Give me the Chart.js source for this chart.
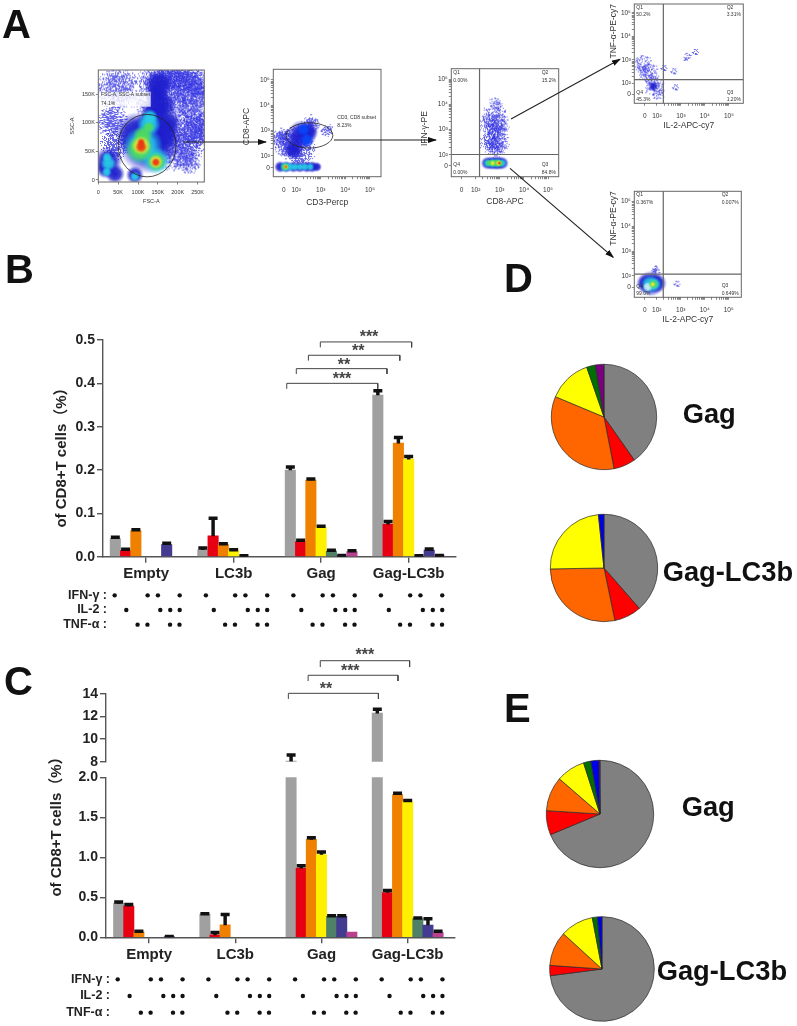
<!DOCTYPE html>
<html>
<head>
<meta charset="utf-8">
<title>CD8+ T cell cytokine responses</title>
<script src="https://cdn.jsdelivr.net/npm/chart.js@4"></script>
<style>
  html, body { margin: 0; background: #fff; }
  #page { position: relative; width: 797px; height: 1026px; overflow: hidden; font-family: "Liberation Sans", Arial, sans-serif; }
  #page canvas { position: absolute; }
  #notes { position: absolute; left: 0; top: 0; pointer-events: none; z-index: 5; }
  #notes .letter { font: bold 40px "Liberation Sans"; fill: #111; }
  #notes .name { font: bold 27.3px "Liberation Sans"; fill: #111; }
  #notes .ytitle { font: bold 15px "Liberation Sans", "Noto Sans CJK SC"; fill: #222; text-anchor: middle; }
</style>
</head>
<body>
<div id="page">
  <svg id="notes" width="797" height="1026">
    <defs>
      <marker id="head" markerWidth="9" markerHeight="6" refX="8" refY="3" orient="auto" markerUnits="userSpaceOnUse">
        <path d="M0 0 L9 3 L0 6 Z" fill="#111"/>
      </marker>
    </defs>
    <text class="letter" x="2" y="38">A</text>
    <text class="letter" x="5" y="283">B</text>
    <text class="letter" x="4" y="695">C</text>
    <text class="letter" x="504" y="292">D</text>
    <text class="letter" x="504" y="722">E</text>
    <text class="name" x="682.7" y="422.7">Gag</text>
    <text class="name" x="662.7" y="581">Gag-LC3b</text>
    <text class="name" x="681.7" y="816">Gag</text>
    <text class="name" x="656.7" y="980">Gag-LC3b</text>
    <text class="ytitle" transform="translate(66 454) rotate(-90)">of CD8+T cells（%）</text>
    <text class="ytitle" transform="translate(60.5 823) rotate(-90)">of CD8+T cells（%）</text>
    <g stroke="#222" stroke-width="1.1" marker-end="url(#head)">
      <line x1="183" y1="142" x2="266" y2="142"/>
      <line x1="334" y1="140" x2="436" y2="140"/>
      <line x1="511" y1="119" x2="620" y2="59.3"/>
      <line x1="510" y1="168.3" x2="613.3" y2="257.3"/>
    </g>
  </svg>
</div>
<script>
const groups = ['Empty', 'LC3b', 'Gag', 'Gag-LC3b']
const barColors = ['#a0a0a0', '#e60012', '#f08000', '#fff000', '#4f8068', '#433b90', '#b8408f']
const pieColors = ['#808080', '#ff0000', '#ff6600', '#ffff00', '#007000', '#0000e6', '#7a0080']

// panel B, one value per bar, then the top of its error bar
const bEmpty = [0.042, 0.014, 0.06, 0, 0, 0.028, 0]
const bLc3b = [0.016, 0.048, 0.028, 0.015, 0.001, 0, 0]
const bGag = [0.2, 0.035, 0.177, 0.068, 0.013, 0.002, 0.012]
const bGagLc3b = [0.373, 0.075, 0.262, 0.225, 0.001, 0.015, 0.002]
const bEmptyTop = [0.045, 0.017, 0.062, null, null, 0.031, null]
const bLc3bTop = [0.02, 0.089, 0.03, 0.016, 0.002, null, null]
const bGagTop = [0.207, 0.038, 0.179, 0.07, 0.015, 0.003, 0.014]
const bGagLc3bTop = [0.383, 0.081, 0.275, 0.231, 0.002, 0.018, 0.003]

// panel C
const cEmpty = [0.425, 0.39, 0.067, 0, 0, 0.005, 0]
const cLc3b = [0.29, 0.03, 0.155, 0, 0, 0, 0]
const cGag = [8.05, 0.865, 1.225, 1.035, 0.262, 0.262, 0.065]
const cGagLc3b = [12.3, 0.56, 1.785, 1.695, 0.235, 0.154, 0.058]
const cEmptyTop = [0.44, 0.41, 0.075, null, null, 0.01, null]
const cLc3bTop = [0.295, 0.06, 0.285, null, null, null, null]
const cGagTop = [8.6, 0.895, 1.245, 1.065, 0.27, 0.27, null]
const cGagLc3bTop = [12.65, 0.585, 1.8, 1.71, 0.24, 0.233, 0.075]

// significance brackets: from, to, level, foot; stars: text, x, y
const bBrackets = [[16.69, 25.55, 0.4, 0.3875], [17.62, 26.45, 0.4339, 0.4216], [18.8, 27.7, 0.4648, 0.4525], [19.96, 28.85, 0.4955, 0.483]]
const bStars = [['***', 22.07, 0.4154], ['**', 22.27, 0.447], ['**', 23.66, 0.48], ['***', 24.7, 0.5123]]
const cBrackets = [[16.75, 25.64, 14.06, 13.56], [18.7, 27.57, 15.66, 15.15], [19.9, 28.72, 16.95, 16.39]]
const cStars = [['**', 20.46, 14.7], ['***', 22.86, 16.24], ['***', 24.31, 17.7]]

// cytokine dot rows, position inside a group of seven bars
const rowNames = ['IFN-γ :', 'IL-2 :', 'TNF-α :']
const ifnSlots = [0.3, 3.15, 4.15, 6.27]
const il2Slots = [1.07, 4.38, 5.35, 6.27]
const tnfSlots = [2.17, 3.13, 5.33, 6.25]

// pie slices, degrees
const pieDGag = [144.9, 24.1, 123.7, 48.2, 9.5, 0, 9.6]
const pieDGagLc3b = [138.9, 29.4, 100.7, 85, 0, 6, 0]
const pieEGag = [247.4, 26.2, 37.3, 31.3, 7.9, 8.9, 1]
const pieEGagLc3b = [262.6, 11.4, 38.4, 36.9, 5.6, 5.1, 0]

// flow plots: density patches as [x, y, radius in pixels], in axis units
const fscGrain = [[150, 172, 22], [142, 132, 22], [200, 160, 28], [242, 132, 28], [233, 80, 26], [192, 57, 24], [50, 160, 24], [33, 103, 18], [42, 63, 16], [225, 34, 14], [180, 180, 16], [220, 180, 18], [255, 170, 16], [255, 90, 18]]
const fscBlue = [[125, 63, 30], [96, 80, 22], [158, 80, 20], [142, 120, 14], [146, 149, 12], [150, 168, 14], [160, 130, 14], [130, 100, 14], [175, 100, 14], [25, 34, 14], [18, 20, 10], [92, 9, 9], [42, 11, 10]]
const fscCyan = [[112, 60, 20], [146, 34, 14], [127, 97, 12], [130, 110, 8], [25, 29, 8], [22, 40, 5], [21, 14, 5], [92, 6, 5]]
const fscGreen = [[104, 54, 14], [112, 77, 10], [146, 32, 10], [127, 92, 6]]
const fscYellow = [[108, 60, 10], [145, 32, 7]]
const fscRed = [[108, 58, 6], [108, 66, 4], [145, 31, 4.5]]

const cd3Grain = [[1.62, 2.5, 16], [2.16, 2.23, 16], [1.9, 2.7, 14], [1.35, 2.76, 10], [2.57, 3.29, 10], [3.24, 3.02, 7]]
const cd3Blue = [[2.23, 2.83, 15], [2.5, 2.96, 10], [1.89, 2.23, 10], [1.35, 1.57, 6], [1.6, 1.57, 6], [1.89, 1.57, 6], [2.15, 1.57, 6], [2.43, 1.57, 6], [2.65, 1.57, 6], [2.84, 1.57, 5]]
const cd3Bright = [[2.3, 3.05, 7], [2.43, 2.63, 7]]
const cd3Cyan = [[1.55, 1.57, 5.5], [1.75, 1.57, 4.5], [1.95, 1.57, 4], [2.16, 1.57, 4], [2.35, 1.57, 4], [2.57, 1.57, 4]]
const cd3Green = [[1.55, 1.57, 4]]
const cd3Yellow = [[1.58, 1.57, 2.5]]
const cd3Red = [[1.58, 1.57, 1.5]]

const ifnGrain = [[2.75, 3.51, 14], [2.75, 2.85, 13], [2.75, 2.33, 12], [2.82, 4.04, 8], [2.55, 3.2, 12], [2.95, 3.2, 12], [2.55, 2.5, 12], [2.95, 2.5, 12]]
const ifnBlue = [[2.48, 1.67, 6.5], [2.65, 1.67, 7], [2.82, 1.67, 7], [2.95, 1.67, 7], [3.1, 1.67, 6.5]]
const ifnCyan = [[2.5, 1.67, 4.5], [2.7, 1.67, 5], [2.9, 1.67, 5], [3.1, 1.67, 4.5]]
const ifnGreen = [[2.55, 1.67, 3.5], [2.7, 1.67, 4], [2.85, 1.67, 4], [2.98, 1.67, 4]]
const ifnYellow = [[2.7, 1.67, 2.5], [2.95, 1.67, 3]]
const ifnRed = [[2.98, 1.67, 1.8]]

const tnfHighGrain = [[1.37, 2.77, 12], [1.64, 2.42, 12], [1.85, 1.92, 11], [2.06, 1.57, 7], [2.68, 2.56, 4], [3.24, 3.13, 5], [3.58, 3.38, 4], [2.75, 1.88, 4], [2.27, 2.7, 4]]
const tnfHighBlue = [[1.85, 1.88, 5]]

const tnfLowGrain = [[2.82, 1.72, 4], [1.9, 2.23, 6]]
const tnfLowBlue = [[1.76, 1.69, 13], [1.55, 1.7, 10], [2.0, 1.7, 10]]
const tnfLowCyan = [[1.71, 1.66, 9], [1.9, 1.66, 7]]
const tnfLowGreen = [[1.86, 1.66, 5]]
const tnfLowYellow = [[1.83, 1.66, 2.5]]
const tnfLowPale = [[1.62, 1.55, 5]]

// axis ticks of the flow plots
const fscTicks = [0, 50, 100, 150, 200, 250]
const fscTickText = ['0', '50K', '100K', '150K', '200K', '250K']
const sscTicks = [0, 50, 100, 150]
const sscTickText = ['0', '50K', '100K', '150K']
const decadeText = ['0', '10²', '10³', '10⁴', '10⁵']
const minorTicks = [2.3, 2.48, 2.6, 2.7, 2.78, 2.85, 2.9, 2.95, 3.3, 3.48, 3.6, 3.7, 3.78, 3.85, 3.9, 3.95, 4.3, 4.48, 4.6, 4.7, 4.78, 4.85, 4.9, 4.95]

const RED = '235,50,20', YELLOW = '240,230,50', GREEN = '80,220,90', CYAN = '40,205,230', BLUE = '30,30,205', BRIGHT = '10,70,250', SPARSE = '50,50,225', PALE = '205,235,240'

Chart.defaults.font.family = '"Liberation Sans", Arial, sans-serif'
Chart.defaults.animation = false
Chart.defaults.responsive = false
Chart.defaults.layout.autoPadding = false
Chart.defaults.plugins.legend.display = false
Chart.defaults.plugins.tooltip.enabled = false

const page = document.getElementById('page')

function addCanvas(left, top, width, height) {
  const canvas = document.createElement('canvas')
  canvas.width = width
  canvas.height = height
  canvas.style.left = left + 'px'
  canvas.style.top = top + 'px'
  page.appendChild(canvas)
  return canvas
}

// the plot boxes are placed by hand, so scales may not ask for room for their labels
function fitScale(scale, size) {
  if (scale.isHorizontal()) scale.height = size
  else scale.width = size
  scale.paddingLeft = scale.paddingRight = scale.paddingTop = scale.paddingBottom = 0
}

// fixed stipple texture for the sparse events, not data
function stipple(x, y, r) {
  let h = (Math.imul(x, 374761393) + Math.imul(y, 668265263) + Math.imul(Math.round(r * 10), 2246822519)) | 0
  h = Math.imul(h ^ (h >>> 13), 1274126177)
  return ((h ^ (h >>> 16)) >>> 0) % 1000 / 1000
}

// round sprite for one density patch: soft for the dense parts, dotted for sparse ones
const sprites = {}
function blob(color, r, grain) {
  const key = color + r + grain
  if (sprites[key]) return sprites[key]
  const size = Math.ceil(r * 2) + 2
  const sprite = document.createElement('canvas')
  sprite.width = sprite.height = size
  const g = sprite.getContext('2d')
  if (grain) {
    const [cr, cg, cb] = color.split(',').map(Number)
    const img = g.createImageData(size, size)
    for (let y = 0; y < size; y++) {
      for (let x = 0; x < size; x++) {
        const d = Math.hypot(x - size / 2, y - size / 2) / r
        if (d < 1 && stipple(x, y, r) < grain * (1 - d * d)) {
          img.data.set([cr, cg, cb, 190], (y * size + x) * 4)
        }
      }
    }
    g.putImageData(img, 0, 0)
  } else {
    const fill = g.createRadialGradient(size / 2, size / 2, 0, size / 2, size / 2, r)
    fill.addColorStop(0, `rgba(${color},1)`)
    fill.addColorStop(0.55, `rgba(${color},0.85)`)
    fill.addColorStop(1, `rgba(${color},0)`)
    g.fillStyle = fill
    g.fillRect(0, 0, size, size)
  }
  sprites[key] = sprite
  return sprite
}

function patchLayer(points, color, grain) {
  return {
    type: 'scatter',
    data: points.map(p => ({ x: p[0], y: p[1], r: p[2] })),
    pointStyle: ctx => blob(color, ctx.raw.r, grain),
    pointRadius: ctx => ctx.raw.r
  }
}

// gate ellipse, quadrant lines and small print of a flow plot
const flowDecor = {
  id: 'flowDecor',
  afterDatasetsDraw(chart, args, opts) {
    const { ctx, scales: { x, y }, chartArea: area } = chart
    const org = chart.canvas.getBoundingClientRect()
    ctx.save()
    if (opts.patch) {
      ctx.fillStyle = 'rgba(255,255,255,0.8)'
      ctx.fillRect(opts.patch[0] - org.left, opts.patch[1] - org.top, opts.patch[2], opts.patch[3])
    }
    ctx.strokeStyle = '#222'
    ctx.lineWidth = 0.8
    if (opts.gate) {
      const [cx, cy, rx, ry] = opts.gate
      ctx.beginPath()
      ctx.ellipse(x.getPixelForValue(cx), y.getPixelForValue(cy),
        Math.abs(x.getPixelForValue(cx + rx) - x.getPixelForValue(cx)),
        Math.abs(y.getPixelForValue(cy + ry) - y.getPixelForValue(cy)), 0, 0, Math.PI * 2)
      ctx.stroke()
    }
    ctx.strokeStyle = '#666'
    ctx.lineWidth = 1.2
    if (opts.quad) {
      const qx = x.getPixelForValue(opts.quad[0]), qy = y.getPixelForValue(opts.quad[1])
      ctx.beginPath()
      ctx.moveTo(qx, area.top)
      ctx.lineTo(qx, area.bottom)
      ctx.moveTo(area.left, qy)
      ctx.lineTo(area.right, qy)
      ctx.stroke()
    }
    ctx.lineWidth = 1
    ctx.strokeRect(area.left, area.top, area.right - area.left, area.bottom - area.top)
    ctx.fillStyle = '#333'
    ctx.font = '5px "Liberation Sans"'
    ctx.textBaseline = 'middle'
    for (const [text, px, py] of opts.notes || []) ctx.fillText(text, px - org.left, py - org.top)
    ctx.restore()
  }
}

function flowAxis(axis, tickFont) {
  const all = axis.ticks.concat(axis.minor || [])
  return {
    type: 'linear',
    min: axis.min,
    max: axis.max,
    afterBuildTicks: scale => { scale.ticks = all.map(value => ({ value })) },
    grid: { drawOnChartArea: false, tickLength: 2.5, color: '#555', lineWidth: 0.7 },
    border: { display: false },
    ticks: {
      autoSkip: false,
      maxRotation: 0,
      padding: axis.padding,
      color: '#333',
      font: { size: tickFont },
      callback: v => {
        const i = axis.ticks.indexOf(v)
        return i < 0 ? '' : axis.text[i]
      }
    }
  }
}

function flowPlot(box, xAxis, yAxis, titles, layers, decor) {
  const mL = 40, mB = 36, mT = 3, mR = 3
  const left = Math.floor(box.l) - mL, top = Math.floor(box.t) - mT
  const width = Math.ceil(box.r - left + mR), height = Math.ceil(box.b - top + mB)
  const canvas = addCanvas(left, top, width, height)
  const size = titles.size
  const line = size * 1.2
  const xScale = flowAxis(xAxis, titles.tick)
  xScale.afterFit = s => fitScale(s, height - (box.b - top))
  xScale.title = { display: true, text: titles.x, color: '#333', font: { size }, padding: { top: 0, bottom: height + top - titles.xAt - line / 2 } }
  const yScale = flowAxis(yAxis, titles.tick)
  yScale.afterFit = s => fitScale(s, box.l - left)
  yScale.title = { display: true, text: titles.y, color: '#333', align: titles.yAlign || 'center', font: { size }, padding: { top: titles.yAt - left - line / 2, bottom: 0 } }
  return new Chart(canvas, {
    type: 'scatter',
    // the first dataset is painted last, layers come in sparse to hot
    data: { datasets: layers.slice().reverse() },
    options: {
      layout: { padding: { top: box.t - top, right: width - (box.r - left), left: 0, bottom: 0 } },
      scales: { x: xScale, y: yScale },
      plugins: { flowDecor: decor }
    },
    plugins: [flowDecor]
  })
}

const decades = (zero, min, max) => ({ min, max, ticks: [zero, 2, 3, 4, 5], text: decadeText, minor: minorTicks })

flowPlot({ l: 98.3, t: 70, r: 204.3, b: 182 },
  { min: 0, max: 267, ticks: fscTicks, text: fscTickText, padding: 5 },
  { min: -3.5, max: 192, ticks: sscTicks, text: sscTickText, padding: 1 },
  { x: 'FSC-A', y: 'SSC-A', xAt: 201.7, yAt: 72.3, size: 5.5, tick: 5.5 },
  [patchLayer(fscGrain, SPARSE, 0.8), patchLayer(fscBlue, BLUE), patchLayer(fscCyan, CYAN), patchLayer(fscGreen, GREEN), patchLayer(fscYellow, YELLOW), patchLayer(fscRed, RED)],
  { gate: [123, 60, 73, 54.5], patch: [100, 91.7, 50.7, 15], notes: [['FSC-A, SSC-A subset', 101, 94.7], ['74.1%', 101, 103.3]] })

flowPlot({ l: 273.3, t: 69.3, r: 381, b: 176.7 },
  Object.assign(decades(1.5, 1.07, 5.45), { padding: 7 }),
  Object.assign(decades(1.53, 1.18, 5.42), { padding: 1 }),
  { x: 'CD3-Percp', y: 'CD8-APC   ', xAt: 202.3, yAt: 246.7, size: 8.5, tick: 6.5 },
  [patchLayer(cd3Grain, SPARSE, 0.8), patchLayer(cd3Blue, BLUE), patchLayer(cd3Bright, BRIGHT), patchLayer(cd3Cyan, CYAN), patchLayer(cd3Green, GREEN), patchLayer(cd3Yellow, YELLOW), patchLayer(cd3Red, RED)],
  { gate: [2.54, 2.81, 0.95, 0.5], notes: [['CD3, CD8 subset', 337.3, 118], ['8.23%', 337.3, 126]] })

flowPlot({ l: 451.3, t: 68.7, r: 558.7, b: 176.7 },
  Object.assign(decades(1.41, 0.99, 5.44), { padding: 7 }),
  Object.assign(decades(1.56, 1.13, 5.41), { padding: 1 }),
  { x: 'CD8-APC', y: 'IFN-γ-PE     ', xAt: 201.7, yAt: 425, size: 8.5, tick: 6.5 },
  [patchLayer(ifnGrain, SPARSE, 0.6), patchLayer(ifnBlue, BLUE), patchLayer(ifnCyan, CYAN), patchLayer(ifnGreen, GREEN), patchLayer(ifnYellow, YELLOW), patchLayer(ifnRed, RED)],
  { quad: [2.16, 2.01], notes: [['Q1', 453.3, 72.7], ['0.00%', 453.3, 80.7], ['Q2', 541.7, 72.7], ['15.2%', 541.7, 80.7], ['Q4', 453.3, 165], ['0.00%', 453.3, 172.7], ['Q3', 541.7, 165], ['84.8%', 541.7, 172.7]] })

flowPlot({ l: 634.3, t: 4, r: 743.3, b: 103.3 },
  Object.assign(decades(1.5, 1.06, 5.6), { padding: 7 }),
  Object.assign(decades(1.55, 1.16, 5.37), { padding: 1 }),
  { x: 'IL-2-APC-cy7', y: 'TNF-α-PE-cy7', xAt: 126, yAt: 614, yAlign: 'end', size: 8.5, tick: 6.5 },
  [patchLayer(tnfHighGrain, SPARSE, 0.55), patchLayer(tnfHighBlue, BLUE)],
  { quad: [2.27, 2.16], notes: [['Q1', 636.3, 7.3], ['50.2%', 636.3, 14.7], ['Q2', 726.7, 7.3], ['3.31%', 726.7, 14.7], ['Q4', 636.3, 92.7], ['45.3%', 636.3, 99.3], ['Q3', 726.7, 92.7], ['1.20%', 726.7, 99.3]] })

flowPlot({ l: 634.3, t: 191.3, r: 741.3, b: 297.3 },
  Object.assign(decades(1.5, 1.06, 5.53), { padding: 7 }),
  Object.assign(decades(1.53, 1.13, 5.42), { padding: 1 }),
  { x: 'IL-2-APC-cy7', y: 'TNF-α-PE-cy7', xAt: 320, yAt: 614, yAlign: 'end', size: 8.5, tick: 6.5 },
  [patchLayer(tnfLowGrain, SPARSE, 0.5), patchLayer(tnfLowBlue, BLUE), patchLayer(tnfLowCyan, CYAN), patchLayer(tnfLowPale, PALE), patchLayer(tnfLowGreen, GREEN), patchLayer(tnfLowYellow, YELLOW)],
  { quad: [2.27, 2.07], notes: [['Q1', 636.3, 195], ['0.367%', 636.3, 202.7], ['Q2', 721.7, 195], ['0.007%', 721.7, 202.7], ['Q4', 636.3, 286.7], ['99.0%', 636.3, 293.3], ['Q3', 721.7, 286], ['0.649%', 721.7, 293.3]] })

// bars, error stems and caps on a shared slot axis, one unit per bar
function barLayers(values, tops, gap, keep) {
  const bars = [], stems = [], caps = []
  values.forEach((row, g) => row.forEach((v, i) => {
    if (!keep(v) || v === 0) return
    const x = g * gap + i
    bars.push({ x, y: v, c: barColors[i] })
    if (tops[g][i] !== null) {
      stems.push({ x, y: [v, tops[g][i]] })
      caps.push({ x, y: tops[g][i] })
    }
  }))
  return [
    { type: 'line', data: caps, showLine: false, pointStyle: 'line', pointRadius: 4.5, pointBorderWidth: 3.5, pointBorderColor: '#111', order: 1 },
    { type: 'bar', data: stems, grouped: false, barThickness: 2.8, backgroundColor: '#111', order: 2 },
    { type: 'bar', data: bars, grouped: false, barThickness: 10.4, backgroundColor: ctx => ctx.raw.c, order: 3 }
  ]
}

function bracketLayers(brackets) {
  return brackets.map(([from, to, level, foot]) => ({
    type: 'line',
    data: [{ x: from, y: foot }, { x: from, y: level }, { x: to, y: level }, { x: to, y: foot }],
    borderColor: '#444',
    borderWidth: 1,
    pointRadius: 0,
    clip: false,
    order: 0
  }))
}

const starMarks = list => ({
  id: 'starMarks',
  afterDatasetsDraw(chart) {
    const { ctx, scales: { x, y } } = chart
    ctx.save()
    ctx.fillStyle = '#444'
    ctx.font = 'bold 16px "Liberation Sans"'
    ctx.textAlign = 'center'
    ctx.textBaseline = 'middle'
    for (const [text, sx, sy] of list) ctx.fillText(text, x.getPixelForValue(sx), y.getPixelForValue(sy) + 3)
    ctx.restore()
  }
})

const axisLine = { color: '#555', width: 1.4 }
const tickLine = { drawOnChartArea: false, offset: false, tickLength: 6, color: '#555', lineWidth: 1.4 }

function groupAxis(gap, min, max, fitHeight, labelPadding) {
  return {
    type: 'linear',
    min,
    max,
    offset: false,
    afterFit: s => fitScale(s, fitHeight),
    afterBuildTicks: scale => { scale.ticks = groups.map((_, g) => ({ value: g * gap + 3 })) },
    grid: tickLine,
    border: axisLine,
    ticks: {
      autoSkip: false,
      maxRotation: 0,
      padding: labelPadding,
      color: '#222',
      font: { size: 15, weight: 'bold' },
      callback: v => groups[Math.round((v - 3) / gap)]
    }
  }
}

function valueAxis(min, max, stepSize, width, digits) {
  return {
    min,
    max,
    afterFit: s => fitScale(s, width),
    grid: tickLine,
    border: axisLine,
    ticks: { color: '#222', font: { size: 14, weight: 'bold' }, padding: 2, stepSize, callback: v => v.toFixed(digits) }
  }
}

function dotMatrix(top, height, gap, min, max, plotLeft, firstIfn) {
  const rows = [ifnSlots, il2Slots, tnfSlots]
  const datasets = rows.map((slots, r) => ({
    data: groups.flatMap((_, g) => slots.map((s, i) => ({
      x: g * gap + (g === 0 && r === 0 && i === 0 ? firstIfn : s),
      y: 2 - r
    }))),
    pointRadius: 2.2,
    pointBackgroundColor: '#111',
    pointBorderWidth: 0
  }))
  return new Chart(addCanvas(0, top, 460, height), {
    type: 'scatter',
    data: { datasets },
    options: {
      layout: { padding: { right: 4 } },
      scales: {
        x: { display: false, min, max },
        y: {
          min: -0.5,
          max: 2.5,
          afterFit: s => fitScale(s, plotLeft),
          afterBuildTicks: scale => { scale.ticks = [0, 1, 2].map(value => ({ value })) },
          grid: { display: false, drawTicks: false },
          border: { display: false },
          ticks: { autoSkip: false, padding: 1, color: '#222', font: { size: 12.5, weight: 'bold' }, callback: v => rowNames[2 - v] }
        }
      }
    }
  })
}

// panel B
const gapB = 8.52
new Chart(addCanvas(0, 300, 460, 290), {
  type: 'bar',
  data: {
    datasets: barLayers([bEmpty, bLc3b, bGag, bGagLc3b], [bEmptyTop, bLc3bTop, bGagTop, bGagLc3bTop], gapB, () => true)
      .concat(bracketLayers(bBrackets))
  },
  options: {
    layout: { padding: { top: 40, right: 4, left: 0, bottom: 0 } },
    scales: {
      x: groupAxis(gapB, -1.2, 33.17, 33.3, 2),
      y: valueAxis(0, 0.5, 0.1, 103, 1)
    }
  },
  plugins: [starMarks(bStars)]
})
dotMatrix(587.7, 44, gapB, -0.71, 33.17, 108, -0.06)

// panel C, the axis breaks between 2 and 8
const gapC = 8.51
const panelC = [cEmpty, cLc3b, cGag, cGagLc3b]
const panelCTop = [cEmptyTop, cLc3bTop, cGagTop, cGagLc3bTop]
new Chart(addCanvas(0, 640, 460, 135), {
  type: 'bar',
  data: {
    datasets: barLayers(panelC, panelCTop, gapC, v => v > 2).concat(bracketLayers(cBrackets))
  },
  options: {
    layout: { padding: { top: 54, right: 5.7, left: 0, bottom: 13.3 } },
    scales: {
      x: { type: 'linear', display: false, min: -1.25, max: 33.13, offset: false },
      y: valueAxis(8, 14, 2, 106, 0)
    }
  },
  plugins: [starMarks(cStars)]
})
new Chart(addCanvas(0, 770, 460, 195), {
  type: 'bar',
  data: {
    datasets: [
      { type: 'bar', data: panelC.flatMap((row, g) => row.map((v, i) => ({ x: g * gapC + i, y: v === 0 ? null : Math.min(v, 2), c: barColors[i] }))), grouped: false, barThickness: 10.3, backgroundColor: ctx => ctx.raw.c, order: 3 }
    ].concat(barLayers(panelC, panelCTop, gapC, v => v <= 2).slice(0, 2))
  },
  options: {
    layout: { padding: { top: 7.3, right: 5.7, left: 0, bottom: 0 } },
    scales: {
      x: groupAxis(gapC, -1.25, 33.13, 27.7, 3),
      y: valueAxis(0, 2, 0.5, 106, 1)
    }
  }
})
dotMatrix(971, 50, gapC, -0.76, 33.13, 111, -0.1)

// panels D and E
function pie(cx, cy, r, values) {
  const side = Math.ceil(r) * 2 + 4
  new Chart(addCanvas(Math.round(cx - side / 2), Math.round(cy - side / 2), side, side), {
    type: 'pie',
    data: { labels: ['gray', 'red', 'orange', 'yellow', 'green', 'blue', 'purple'], datasets: [{ data: values, backgroundColor: pieColors, borderColor: '#2a2a2a', borderWidth: 0.7 }] },
    options: { radius: r }
  })
}
pie(604.3, 416.7, 52.7, pieDGag)
pie(604.3, 568.3, 53.7, pieDGagLc3b)
pie(599.7, 814.3, 53.7, pieEGag)
pie(602, 969.3, 52.3, pieEGagLc3b)
</script>
</body>
</html>
